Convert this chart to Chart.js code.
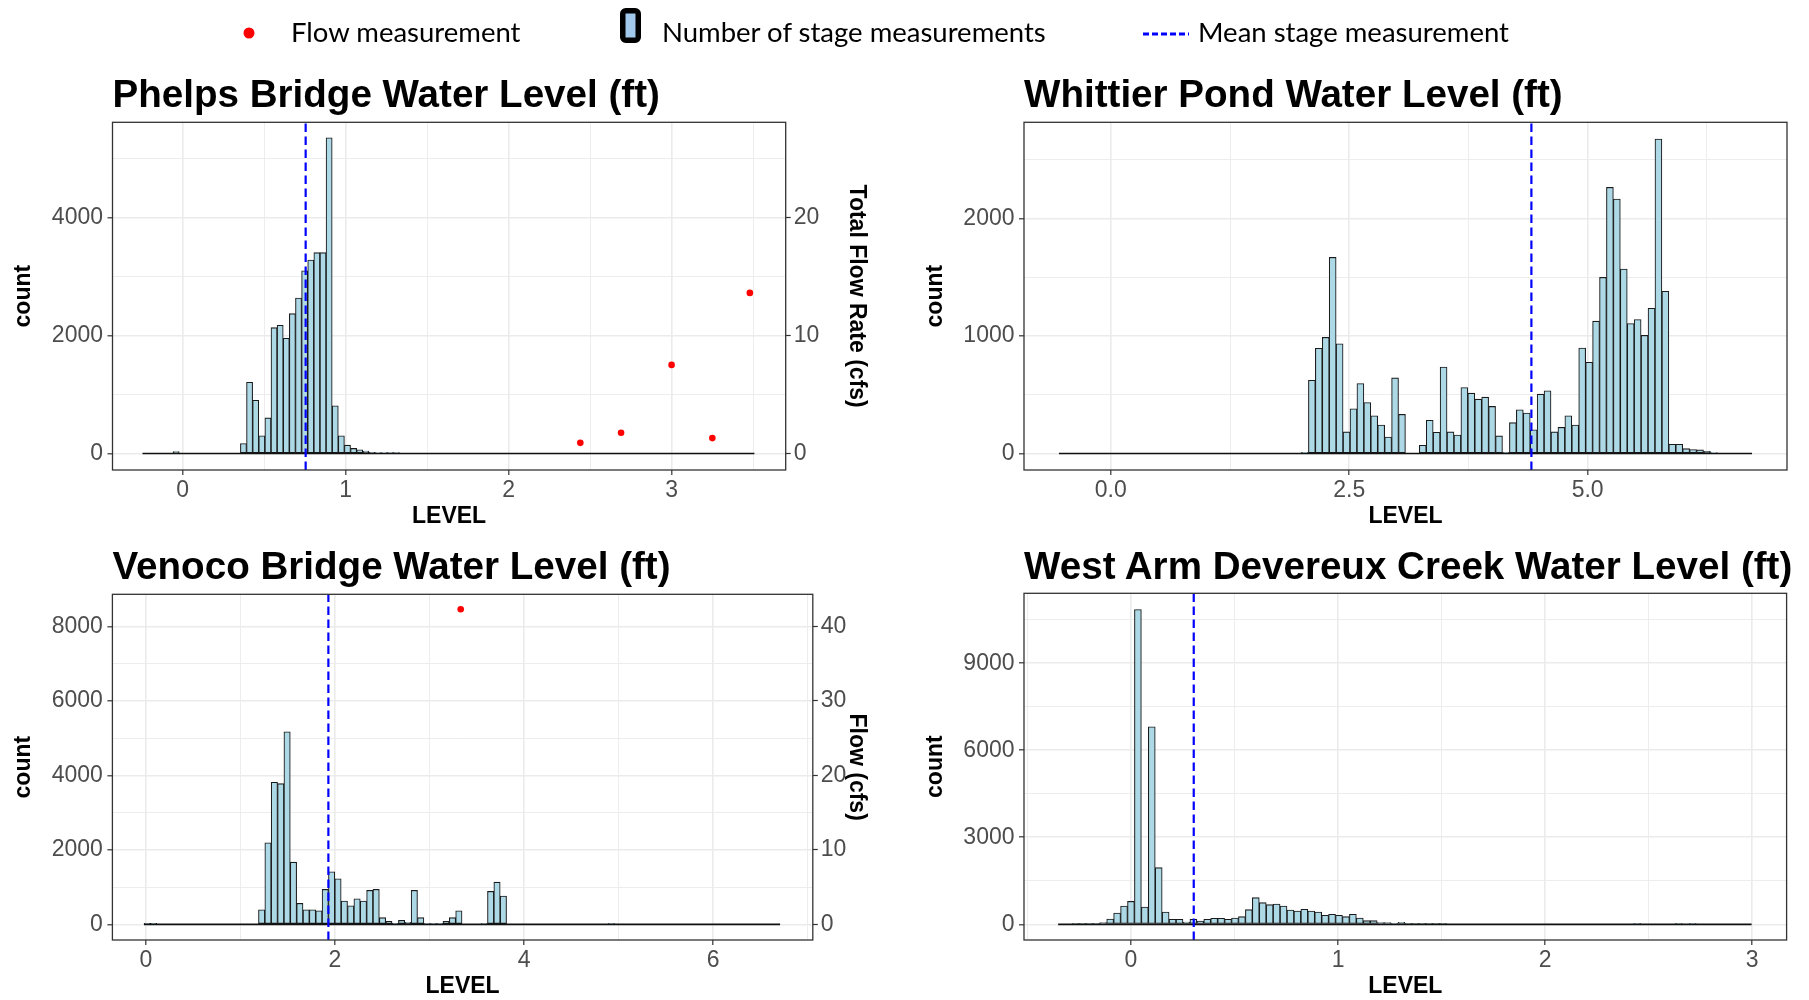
<!DOCTYPE html>
<html>
<head>
<meta charset="utf-8">
<script src="https://cdn.jsdelivr.net/npm/chart.js@4.4.0/dist/chart.umd.min.js"></script>
<style>
  body { margin: 0; width: 1809px; height: 1000px; background: #fff; position: relative; overflow: hidden; }
  canvas { position: absolute; }
  #overlay { position: absolute; left: 0; top: 0; pointer-events: none; }
</style>
</head>
<body>
<canvas id="phelps" width="880" height="426" style="left:0px;top:104px"></canvas>
<canvas id="whittier" width="897" height="426" style="left:912px;top:104px"></canvas>
<canvas id="venoco" width="880" height="424" style="left:0px;top:576px"></canvas>
<canvas id="devereux" width="897" height="425" style="left:912px;top:575px"></canvas>

<svg id="overlay" width="1809" height="1000" xmlns="http://www.w3.org/2000/svg">
  <!-- shared legend -->
  <circle cx="249" cy="33" r="5.5" fill="#FF0000"/>
  <text x="291" y="42" font-family="Lato, 'Open Sans', sans-serif" font-size="27.5" fill="#000">Flow measurement</text>
  <rect x="622.75" y="10.75" width="15.5" height="29.5" rx="3" fill="#A2C8EC" stroke="#000" stroke-width="5.5"/>
  <text x="662" y="42" font-family="Lato, 'Open Sans', sans-serif" font-size="27.5" fill="#000">Number of stage measurements</text>
  <line x1="1143" y1="34" x2="1189" y2="34" stroke="#0000FF" stroke-width="3" stroke-dasharray="6 3"/>
  <text x="1198" y="42" font-family="Lato, 'Open Sans', sans-serif" font-size="27.5" fill="#000">Mean stage measurement</text>
  <!-- panel titles -->
  <g font-family="'Liberation Sans', Arial, sans-serif" font-size="38.6" font-weight="bold" fill="#000">
    <text x="112.5" y="107">Phelps Bridge Water Level (ft)</text>
    <text x="1024" y="107">Whittier Pond Water Level (ft)</text>
    <text x="112.5" y="579">Venoco Bridge Water Level (ft)</text>
    <text x="1024" y="579">West Arm Devereux Creek Water Level (ft)</text>
  </g>
</svg>

<script>
//----------------------------------------------
// DATA (100 bins per histogram, counts)
//----------------------------------------------

// Phelps Bridge
const phelpsBinStart = -0.246;
const phelpsBinWidth = 0.03754;
const phelpsCounts = [
  0, 0, 0, 0, 0, 30, 0, 0, 0, 0,
  0, 0, 0, 0, 0, 0, 169, 1207, 902, 299,
  603, 2132, 2171, 1951, 2369, 2634, 3096, 3277, 3401, 3401,
  5347, 807, 299, 141, 85, 62, 40, 20, 15, 15,
  10, 10, 0, 0, 0, 0, 0, 0, 0, 0,
  0, 0, 0, 0, 0, 0, 0, 0, 0, 0,
  0, 0, 0, 0, 0, 0, 0, 0, 0, 0,
  0, 0, 0, 0, 0, 0, 0, 0, 0, 0,
  0, 0, 0, 0, 0, 0, 0, 0, 0, 0,
  0, 0, 0, 0, 0, 0, 0, 0, 0, 0
];
const phelpsMean = 0.755;
const phelpsFlowLevel = [2.44, 2.69, 3.0, 3.25, 3.48];
const phelpsFlow = [0.9, 1.75, 7.5, 1.3, 13.6];
const phelpsXTicks = [0, 1, 2, 3];
const phelpsXMinor = [0.5, 1.5, 2.5, 3.5];
const phelpsYTicks = [0, 2000, 4000];
const phelpsYMinor = [1000, 3000, 5000];
const phelpsFlowTicks = [0, 10, 20];

// Whittier Pond
const whittierBinStart = -0.544;
const whittierBinWidth = 0.07267;
const whittierCounts = [
  0, 0, 0, 0, 0, 0, 0, 0, 0, 0,
  0, 0, 0, 0, 0, 0, 0, 0, 0, 0,
  0, 0, 0, 0, 0, 0, 0, 0, 0, 0,
  0, 0, 0, 0, 0, 10, 624, 896, 989, 1670,
  935, 184, 381, 596, 435, 322, 243, 141, 644, 333,
  0, 0, 71, 283, 181, 737, 184, 158, 562, 514,
  463, 480, 401, 150, 11, 263, 373, 345, 203, 506,
  534, 184, 223, 322, 243, 898, 777, 1127, 1500, 2266,
  2167, 1571, 1107, 1141, 1006, 1237, 2678, 1381, 79, 79,
  42, 34, 31, 20, 8, 0, 0, 0, 0, 0
];
const whittierMean = 4.41;
const whittierXTicks = [0, 2.5, 5];
const whittierXMinor = [1.25, 3.75, 6.25];
const whittierYTicks = [0, 1000, 2000];
const whittierYMinor = [500, 1500, 2500];

// Venoco Bridge
const venocoBinStart = -0.021;
const venocoBinWidth = 0.0673;
const venocoCounts = [
  30, 30, 0, 0, 0, 0, 0, 0, 0, 0,
  0, 0, 0, 0, 0, 0, 0, 0, 393, 2188,
  3813, 3777, 5170, 1670, 563, 393, 393, 366, 938, 1411,
  1223, 625, 500, 688, 625, 911, 938, 179, 80, 27,
  107, 54, 911, 179, 18, 18, 18, 80, 179, 366,
  0, 0, 0, 18, 884, 1134, 759, 0, 0, 0,
  0, 0, 0, 0, 0, 0, 0, 0, 0, 0,
  0, 0, 0, 20, 0, 0, 0, 0, 0, 0,
  0, 0, 0, 0, 0, 0, 0, 0, 0, 0,
  0, 0, 0, 0, 0, 0, 0, 0, 0, 0
];
const venocoMean = 1.93;
const venocoFlowLevel = [3.33];
const venocoFlow = [42.3];
const venocoXTicks = [0, 2, 4, 6];
const venocoXMinor = [1, 3, 5, 7];
const venocoYTicks = [0, 2000, 4000, 6000, 8000];
const venocoYMinor = [1000, 3000, 5000, 7000];
const venocoFlowTicks = [0, 10, 20, 30, 40];

// West Arm Devereux Creek
const devereuxBinStart = -0.352;
const devereuxBinWidth = 0.0335;
const devereuxCounts = [
  0, 0, 15, 15, 15, 15, 57, 184, 390, 631,
  792, 10849, 597, 6808, 1952, 425, 172, 172, 80, 172,
  115, 172, 207, 207, 172, 218, 264, 505, 918, 746,
  677, 700, 631, 494, 459, 517, 459, 425, 310, 344,
  310, 264, 344, 218, 126, 126, 57, 57, 23, 69,
  15, 15, 15, 15, 15, 15, 0, 0, 0, 0,
  0, 0, 0, 0, 0, 0, 0, 0, 0, 0,
  0, 0, 0, 0, 0, 0, 0, 0, 0, 0,
  0, 0, 0, 20, 0, 0, 0, 0, 0, 20,
  0, 20, 0, 0, 0, 0, 0, 0, 0, 0
];
const devereuxMean = 0.303;
const devereuxXTicks = [0, 1, 2, 3];
const devereuxXMinor = [-0.5, 0.5, 1.5, 2.5];
const devereuxYTicks = [0, 3000, 6000, 9000];
const devereuxYMinor = [1500, 4500, 7500, 10500];

// counts per cfs on the secondary axis
const flowRatio = 200;

//----------------------------------------------
// CHART BUILDER
//----------------------------------------------
const FONT = "'Liberation Sans', Arial, sans-serif";
const tickFont = { family: FONT, size: 23 };
const titleFont = { family: FONT, size: 23, weight: 'bold' };
const GRID = '#EBEBEB';

const panelBorder = {
  id: 'panelBorder',
  afterDatasetsDraw(chart) {
    const { ctx, chartArea: a } = chart;
    ctx.save();
    ctx.strokeStyle = '#333333';
    ctx.lineWidth = 1.3;
    ctx.strokeRect(a.left, a.top, a.right - a.left, a.bottom - a.top);
    ctx.restore();
  }
};

function gridFor(majors) {
  return {
    offset: false,
    color: GRID,
    lineWidth: c => majors.includes(c.tick.value) ? 1.6 : 0.9,
    drawTicks: true,
    tickLength: 5,
    tickWidth: 1.2,
    tickColor: c => majors.includes(c.tick.value) ? '#333333' : 'rgba(0,0,0,0)'
  };
}

function histChart(id, o) {
  const binEnd = o.binStart + o.counts.length * o.binWidth;
  const bars = o.counts.map((c, i) => ({ x: o.binStart + (i + 0.5) * o.binWidth, y: c }));

  const datasets = [
    {
      type: 'bar', data: bars, yAxisID: 'y', order: 4,
      backgroundColor: '#ADD8E6', borderColor: '#1a1a1a', borderWidth: 1.1,
      borderSkipped: false, barPercentage: 1, categoryPercentage: 1
    },
    {
      type: 'line', data: [{ x: o.binStart, y: 0 }, { x: binEnd, y: 0 }], yAxisID: 'y', order: 3,
      borderColor: '#111111', borderWidth: 1.6, pointRadius: 0, fill: false
    },
    {
      type: 'line', data: [{ x: o.mean, y: o.yMin }, { x: o.mean, y: o.yMax }], yAxisID: 'y', order: 1,
      borderColor: '#0000FF', borderWidth: 2.2, borderDash: [8.5, 4.5], pointRadius: 0, fill: false
    }
  ];

  const scales = {
    x: {
      type: 'linear', min: o.xMin, max: o.xMax, offset: false,
      afterBuildTicks: ax => { ax.ticks = o.xTicks.concat(o.xMinor).sort((a, b) => a - b).map(v => ({ value: v })); },
      afterFit: ax => { ax.height = 60; },
      grid: gridFor(o.xTicks),
      border: { display: false },
      ticks: {
        autoSkip: false, maxRotation: 0, minRotation: 0, padding: 1.5, color: '#4D4D4D', font: tickFont,
        callback: v => o.xTicks.includes(v) ? o.xFmt(v) : ''
      },
      title: { display: true, text: 'LEVEL', color: '#000', font: titleFont, padding: { top: 0, bottom: 0 } }
    },
    y: {
      type: 'linear', position: 'left', min: o.yMin, max: o.yMax,
      afterBuildTicks: ax => { ax.ticks = o.yTicks.concat(o.yMinor).sort((a, b) => a - b).map(v => ({ value: v })); },
      afterFit: ax => { ax.width = o.leftW; },
      grid: gridFor(o.yTicks),
      border: { display: false },
      ticks: {
        autoSkip: false, padding: 4.5, color: '#4D4D4D', font: tickFont,
        callback: v => o.yTicks.includes(v) ? String(v) : ''
      },
      title: { display: true, text: 'count', color: '#000', font: titleFont, padding: { top: 9.7, bottom: 0 } }
    }
  };

  if (o.flowLevel) {
    datasets.push({
      type: 'scatter', data: o.flowLevel.map((x, i) => ({ x: x, y: o.flow[i] })), yAxisID: 'y2', order: 0,
      backgroundColor: '#FF0000', borderColor: '#FF0000', pointRadius: 3.3, borderWidth: 0
    });
    scales.y2 = {
      type: 'linear', position: 'right', min: o.yMin / flowRatio, max: o.yMax / flowRatio,
      afterBuildTicks: ax => { ax.ticks = o.flowTicks.map(v => ({ value: v })); },
      afterFit: ax => { ax.width = o.rightW; },
      grid: { drawOnChartArea: false, drawTicks: true, tickLength: 5, tickWidth: 1.2, tickColor: '#333333' },
      border: { display: false },
      ticks: { autoSkip: false, padding: 3, color: '#4D4D4D', font: tickFont, callback: v => String(v) },
      title: { display: true, text: o.flowTitle, color: '#000', font: titleFont, padding: { top: 10.2, bottom: 0 } }
    };
  }

  return new Chart(document.getElementById(id).getContext('2d'), {
    type: 'bar',
    data: { datasets: datasets },
    options: {
      responsive: false,
      animation: false,
      events: [],
      layout: { padding: { top: o.padTop, right: o.padRight || 0, left: 0, bottom: 0 } },
      plugins: { legend: { display: false }, tooltip: { enabled: false }, title: { display: false } },
      scales: scales
    },
    plugins: [panelBorder]
  });
}

const intFmt = v => String(v);
const oneDec = v => v.toFixed(1);

histChart('phelps', {
  binStart: phelpsBinStart, binWidth: phelpsBinWidth, counts: phelpsCounts, mean: phelpsMean,
  flowLevel: phelpsFlowLevel, flow: phelpsFlow, flowTicks: phelpsFlowTicks, flowTitle: 'Total Flow Rate (cfs)',
  xTicks: phelpsXTicks, xMinor: phelpsXMinor, yTicks: phelpsYTicks, yMinor: phelpsYMinor, xFmt: intFmt,
  xMin: -0.43, xMax: 3.70, yMin: -280, yMax: 5610,
  leftW: 112.5, rightW: 94.3, padTop: 18
});

histChart('whittier', {
  binStart: whittierBinStart, binWidth: whittierBinWidth, counts: whittierCounts, mean: whittierMean,
  xTicks: whittierXTicks, xMinor: whittierXMinor, yTicks: whittierYTicks, yMinor: whittierYMinor, xFmt: oneDec,
  xMin: -0.91, xMax: 7.09, yMin: -140, yMax: 2820,
  leftW: 112, padTop: 18, padRight: 22
});

histChart('venoco', {
  binStart: venocoBinStart, binWidth: venocoBinWidth, counts: venocoCounts, mean: venocoMean,
  flowLevel: venocoFlowLevel, flow: venocoFlow, flowTicks: venocoFlowTicks, flowTitle: 'Flow (cfs)',
  xTicks: venocoXTicks, xMinor: venocoXMinor, yTicks: venocoYTicks, yMinor: venocoYMinor, xFmt: intFmt,
  xMin: -0.355, xMax: 7.055, yMin: -420, yMax: 8860,
  leftW: 112.4, rightW: 67.2, padTop: 18
});

histChart('devereux', {
  binStart: devereuxBinStart, binWidth: devereuxBinWidth, counts: devereuxCounts, mean: devereuxMean,
  xTicks: devereuxXTicks, xMinor: devereuxXMinor, yTicks: devereuxYTicks, yMinor: devereuxYMinor, xFmt: intFmt,
  xMin: -0.517, xMax: 3.167, yMin: -540, yMax: 11410,
  leftW: 112, padTop: 18.3, padRight: 22.4
});
</script>
</body>
</html>
